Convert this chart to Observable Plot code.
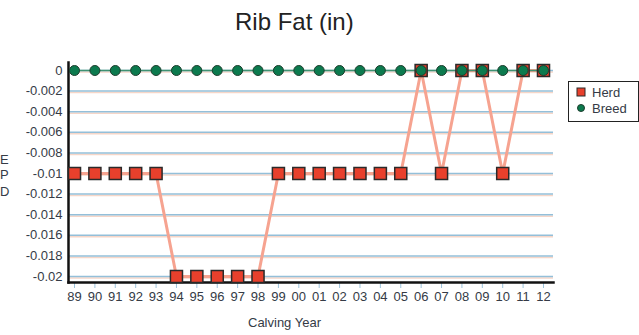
<!DOCTYPE html>
<html><head><meta charset="utf-8">
<script src="https://cdn.jsdelivr.net/npm/d3@7"></script>
<script src="https://cdn.jsdelivr.net/npm/@observablehq/plot@0.6"></script>
<style>
body{margin:0;background:#fff;font-family:"Liberation Sans",Arial,sans-serif;}
#wrap{position:relative;width:639px;height:335px;}
.t{position:absolute;color:#333;white-space:nowrap;line-height:1;}
#legend{position:absolute;left:568px;top:81px;width:71px;height:41px;border:1.5px solid #222;box-sizing:border-box;background:#fff;}
</style></head>
<body>
<div id="wrap"></div>
<script>
const years = ["89","90","91","92","93","94","95","96","97","98","99","00","01","02","03","04","05","06","07","08","09","10","11","12"];
const herd = [-0.01,-0.01,-0.01,-0.01,-0.01,-0.02,-0.02,-0.02,-0.02,-0.02,-0.01,-0.01,-0.01,-0.01,-0.01,-0.01,-0.01,0,-0.01,0,0,-0.01,0,0];
const breed = [0,0,0,0,0,0,0,0,0,0,0,0,0,0,0,0,0,0,0,0,0,0,0,0];
const yTicks = [0,-0.002,-0.004,-0.006,-0.008,-0.01,-0.012,-0.014,-0.016,-0.018,-0.02];

const herdData = years.map((y,i)=>({year:y, v:herd[i]}));
const breedData = years.map((y,i)=>({year:y, v:breed[i]}));

const chart = Plot.plot({
  width:639, height:335,
  marginLeft:68, marginRight:86, marginTop:62, marginBottom:53,
  style:{fontFamily:"'Liberation Sans', Arial, sans-serif", fontSize:"13px", color:"#333", background:"transparent"},
  x:{type:"point", domain:years, range:[74,543], padding:0, round:false},
  y:{domain:[-0.020583,0.000777]},
  marks:[
    Plot.ruleY(yTicks,{y:d=>d, dy:1.5, stroke:"#f6d6c8", strokeWidth:1.5}),
    Plot.ruleY(yTicks,{y:d=>d, stroke:"#93bfd9", strokeWidth:1.5}),
    Plot.axisY({ticks:yTicks, tickSize:0, tickPadding:6, tickFormat:d=>d===0?"0":String(d), fill:"#353b46", label:null}),
    Plot.axisX({tickSize:6, stroke:"#9cc3dc", tickPadding:3, fill:"#353b46", label:null}),
    Plot.frame({anchor:"left", stroke:"#111", strokeWidth:2.5}),
    Plot.frame({anchor:"bottom", stroke:"#111", strokeWidth:2.5}),
    Plot.line(herdData,{x:"year", y:"v", stroke:"#f6a390", strokeWidth:3}),
    Plot.line(breedData,{x:"year", y:"v", stroke:"#3f9272", strokeWidth:1.5}),
    Plot.dot(herdData,{x:"year", y:"v", symbol:"square", r:6.8, fill:"#e8402c", stroke:"#2a2a2a", strokeWidth:1.5}),
    Plot.dot(breedData,{x:"year", y:"v", symbol:"circle", r:5, fill:"#0c7a4e", stroke:"#1d3d2d", strokeWidth:1})
  ]
});
const wrap = document.getElementById("wrap");
chart.style.position="absolute"; chart.style.left="0"; chart.style.top="0";
wrap.appendChild(chart);

function addText(txt, left, top, size, extra){
  const d=document.createElement("div"); d.className="t"; d.textContent=txt;
  d.style.left=left+"px"; d.style.top=top+"px"; d.style.fontSize=size+"px";
  if(extra) Object.assign(d.style, extra);
  wrap.appendChild(d);
}
addText("Rib Fat (in)", 235, 10, 24, {color:"#222"});
addText("Calving Year", 248, 316, 13, {color:"#353b46"});
addText("E", 0, 153, 13, {color:"#353b46"});
addText("P", 0, 168, 13, {color:"#353b46"});
addText("D", 0, 185, 13, {color:"#353b46"});

const lg=document.createElement("div"); lg.id="legend";
lg.innerHTML = '<svg width="70" height="40" style="position:absolute;left:0;top:0">'+
 '<rect x="8" y="6" width="8" height="8" fill="#e8402c" stroke="#2a2a2a" stroke-width="1"/>'+
 '<circle cx="12" cy="26" r="3.5" fill="#0c7a4e" stroke="#1d3d2d"/>'+
 '<text x="23" y="15" font-size="13" fill="#353b46">Herd</text>'+
 '<text x="23" y="31" font-size="13" fill="#353b46">Breed</text></svg>';
wrap.appendChild(lg);
</script>
</body></html>
